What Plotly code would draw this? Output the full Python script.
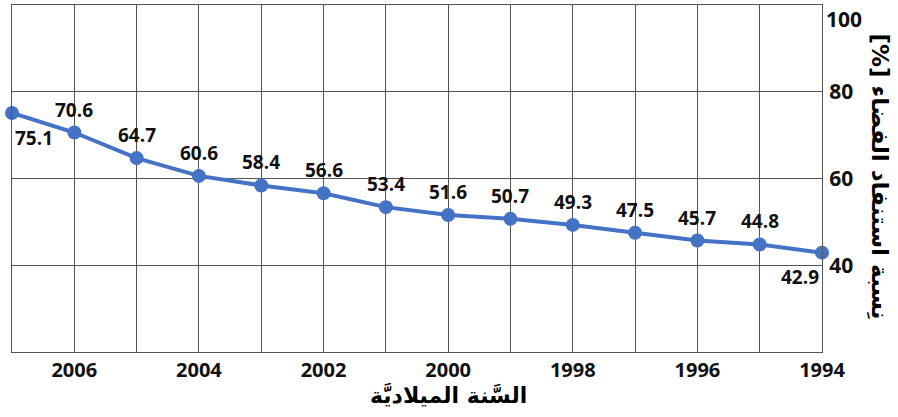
import plotly.graph_objects as go

# Space depletion ratio by year
years = [2007, 2006, 2005, 2004, 2003, 2002, 2001, 2000, 1999, 1998, 1997, 1996, 1995, 1994]
ratio = [75.1, 70.6, 64.7, 60.6, 58.4, 56.6, 53.4, 51.6, 50.7, 49.3, 47.5, 45.7, 44.8, 42.9]
x_ticks = [2006, 2004, 2002, 2000, 1998, 1996, 1994]
y_ticks = [40, 60, 80, 100]

x_title = "السَّنة الميلاديَّة"
y_title = "نِسبة استنفاد الفضاء [%]"

LINE = "#4472C4"
GRID = "#555555"
FONT = "Open Sans"
TICK_FONT = dict(family=FONT, size=21, color="#111111", weight="bold")

fig = go.Figure()
fig.add_trace(go.Scatter(
    x=years, y=ratio, mode="lines+markers",
    line=dict(color=LINE, width=4),
    marker=dict(color=LINE, size=14),
    cliponaxis=False, hoverinfo="skip",
))

# value labels: first below-right, last below-left, others above
for i, (yr, v) in enumerate(zip(years, ratio)):
    if i == 0:
        xs, ys = 22, -25
    elif i == len(years) - 1:
        xs, ys = -22, -24
    else:
        xs, ys = 0, 23
    fig.add_annotation(
        x=yr, y=v, text=f"{v}", showarrow=False,
        xshift=xs, yshift=ys,
        font=dict(family=FONT, size=19, color="#111111", weight="bold"),
    )

# the top tick label sits just under the top edge so it stays on the page
top = y_ticks[-1]
fig.add_annotation(
    xref="paper", yref="y", x=1.0, xanchor="left", xshift=2,
    y=top, yanchor="top", yshift=2,
    text=str(top), showarrow=False, font=TICK_FONT,
)

fig.add_annotation(
    xref="paper", yref="paper", x=0.5395, y=-0.124, yanchor="middle",
    text=x_title, showarrow=False,
    font=dict(family="DejaVu Sans", size=22, color="#000000", weight="bold"),
)
# right-to-left embedding keeps the bracketed unit at the far end
fig.add_annotation(
    xref="paper", yref="paper", x=1.0, xshift=58, xanchor="center",
    y=0.5, yshift=2, yanchor="middle",
    text="\u202b" + y_title + "\u202c", showarrow=False, textangle=90,
    font=dict(family="DejaVu Sans", size=23, color="#000000", weight="bold"),
)

fig.update_xaxes(
    range=[2007, 1994], tickvals=x_ticks, ticktext=[str(t) for t in x_ticks],
    showgrid=True, gridcolor=GRID, gridwidth=1,
    minor=dict(dtick=1, showgrid=True, gridcolor=GRID, gridwidth=1, tick0=1994),
    showline=True, linecolor=GRID, linewidth=1, mirror=True,
    zeroline=False, ticks="", ticklabelstandoff=0,
    tickfont=dict(family=FONT, size=20, color="#111111", weight="bold"),
)
fig.update_yaxes(
    range=[20, top], side="right", tickvals=y_ticks,
    ticktext=[str(t) if t != top else "" for t in y_ticks],
    showgrid=True, gridcolor=GRID, gridwidth=1,
    showline=True, linecolor=GRID, linewidth=1, mirror=True,
    zeroline=False, ticks="", ticklabelstandoff=2,
    tickfont=TICK_FONT,
)
fig.update_layout(
    width=898, height=417,
    margin=dict(l=12, r=76, t=5, b=65),
    plot_bgcolor="white", paper_bgcolor="white",
    showlegend=False,
)

fig.write_html("out.html")
